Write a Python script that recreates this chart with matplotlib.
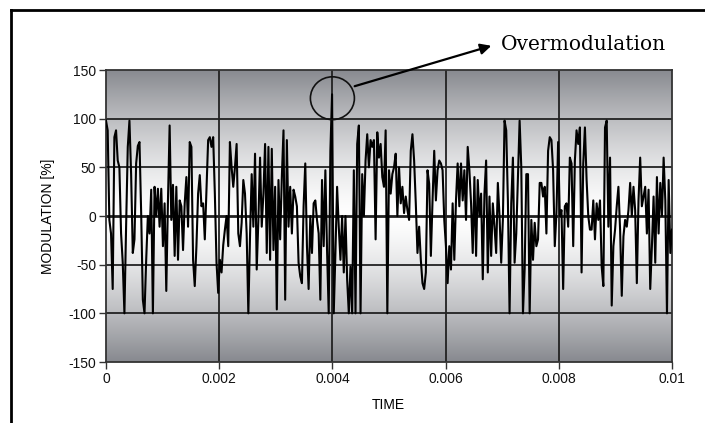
import numpy as np
import matplotlib
matplotlib.use("Agg")
import matplotlib.pyplot as plt
from matplotlib.patches import Ellipse
from matplotlib.lines import Line2D

# ---- data ----
segment_a = [98, 88, -4, -18, -75, 81, 88, 57, 50, -18, -48, -100, -11, 71, 98, 43, -38, -24, 54, 72,
             76, 3, -86, -100, -45,
             0, -18, 27, -100, 30, 0, 28, -11, 28, -31, 13, -77, 16, 93, -4, 32, -41, 30, -45, 16,
             10, -35, 13, 40, -11, 76, 71, -45, -72, -31, 23, 42, 10, 13, -24, 27, 78, 81, 71, 81,
             23, -48, -79, -45, -58, -30, -14, 0, -31, 76, 50, 30, 50, 74, -18, -31, -7, 37, 23, -18,
             -100, -21, 43, -11, 64, -55, -4, 60, -11, 23, 74, -38, 71]
segment_b = [-45, 69, -35, 30, -96, 37, -24, 40, 88, -86, 78, -11, 30, -18, 27, 20, 10, -48, -62, -69,
             10, 54, -31, -75, 0, -38, 13, 16, -4, -18, -86, 37, -31, 47, -35, -100, 67, 125, -100, -38,
             30, -11, -45, 0, -58, 0, -65, -100, -52, -100, 47, -100, 74, 93, -100, 43, 0, 57, 84, 50,
             78, 71, 78, -24, 86, 60, 74, 40, 30, 88, -100, 47, 23, 43, 50, 64, 0, 50, 13, 30,
             3, 20, 6, -4, 67, 84, 57, 13, -38, -11, -45, -69, -75, -58, 47, 33]
segment_c = [-41, 16, 67, 16, 47, 57, 54, 47, -4, -31, -69, -31, -55, 13, -45, 16, 54, 10, 54, 16,
             47, -4, 71, 47, 13, -38, 40, -41, 37, 0, 23, -65, 23, 57, -58, 20, -41, 13, -11, -38,
             34, 0, -48, -4, 98, 88, 16, -100, 13, 60, -48, -18, 40, 98, 50, -100, -55, 43, 43, -100,
             -4, -45, -7, -31, -24, 34, 34, 20, 30, -18, 67, 81, 78, 47, -31, 3, 76, 0, 6, -75,
             10, 13, -11, 60, 54, -31, 57, 88, 74, 91, -58, 54, 91, 37, 0, -14]
segment_d = [-14, 16, -24, 13, -4, 16, -52, -72, 91, 98, -11, 60, -92, -31, -14, 10, 30, -14, -82, -21,
             -4, -11, 6, 34, 0, 30, 6, -69, 16, 60, 10, 20, 30, -18, 27, -75, -31, 20, -48, 40,
             -18, 34, 0, 60, 16, -100, 37, -38, -14]
modulation = segment_a + segment_b + segment_c + segment_d
time = np.linspace(0, 0.01, len(modulation))

x_ticks = [0, 0.002, 0.004, 0.006, 0.008, 0.01]
x_tick_labels = ["0", "0.002", "0.004", "0.006", "0.008", "0.01"]
y_ticks = [-150, -100, -50, 0, 50, 100, 150]
y_tick_labels = ["-150", "-100", "-50", "0", "50", "100", "150"]
overmod_time, overmod_value = 0.004, 121

W, H = 705, 423
plt.rcParams["font.family"] = ["Liberation Sans", "DejaVu Sans"]
fig = plt.figure(figsize=(W / 100, H / 100), dpi=100)
ax = fig.add_axes([106 / W, 1 - 362 / H, 566 / W, 292 / H])

# gradient background
yy = np.linspace(150, -150, 400)[:, None]
f = (np.abs(yy) / 150) ** 1.4
gray = np.array([135, 137, 143]) / 255.0
img = 1 - (1 - gray)[None, None, :] * f[:, :, None]
img = np.repeat(img, 2, axis=1)
ax.imshow(img, extent=[0, 0.01, -150, 150], aspect="auto", zorder=0, interpolation="bilinear")

for yt in y_ticks[1:-1]:
    ax.axhline(yt, color="#222222", lw=2.0 if yt == 0 else 1.3, zorder=1)
for xt in x_ticks[1:-1]:
    ax.axvline(xt, color="#222222", lw=1.3, zorder=1)

ax.plot(time, modulation, color="black", lw=1.5, zorder=3)

ax.set_xlim(0, 0.01)
ax.set_ylim(-150, 150)
ax.set_xticks(x_ticks)
ax.set_xticklabels(x_tick_labels)
ax.set_yticks(y_ticks)
ax.set_yticklabels(y_tick_labels)
ax.tick_params(direction="out", length=5, width=1, color="#333333", labelsize=10, pad=2,
               labelcolor="#111111")
for s in ax.spines.values():
    s.set_color("#333333")
    s.set_linewidth(1.3)

fig.text(48 / W, 1 - 216 / H, "MODULATION [%]", rotation=90, ha="center", va="center", fontsize=10)
fig.text(388 / W, 1 - 405 / H, "TIME", ha="center", va="center", fontsize=10)

# overmodulation annotation
ax.add_patch(Ellipse((overmod_time, overmod_value), 44 / 566 * 0.01, 44, fill=False,
                     edgecolor="#111111", lw=1.2, zorder=4))
ax.annotate("", xy=(494 / W, 1 - 45 / H), xycoords="figure fraction",
            xytext=(352 / W, 1 - 87 / H), textcoords="figure fraction",
            arrowprops=dict(arrowstyle="-|>", color="black", lw=1.6, mutation_scale=16))
fig.text(501 / W, 1 - 50 / H, "Overmodulation", family=["DejaVu Serif"], fontsize=14.5,
         ha="left", va="baseline")

# figure border
fig.add_artist(Line2D([11 / W, 11 / W], [0, 1 - 10 / H], color="black", lw=2,
                      transform=fig.transFigure))
fig.add_artist(Line2D([11 / W, 1], [1 - 10 / H, 1 - 10 / H], color="black", lw=2,
                      transform=fig.transFigure))

fig.savefig("out.png", dpi=100)
